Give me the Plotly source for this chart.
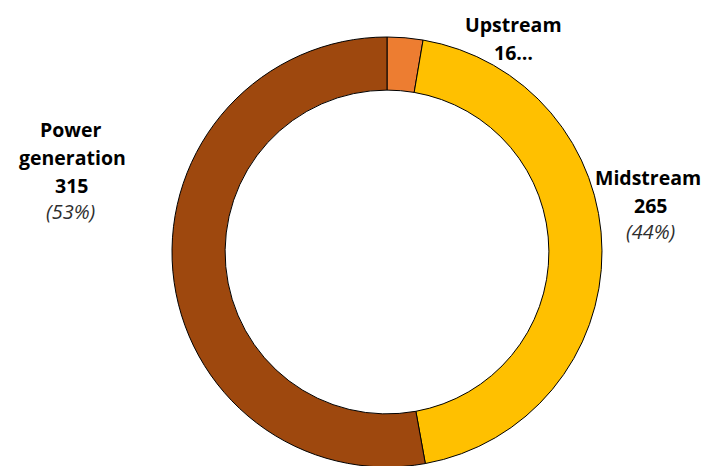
import plotly.graph_objects as go

categories = ["Upstream", "Midstream", "Power generation"]
values = [16, 265, 315]
colors = ["#ED7D31", "#FFC000", "#9E480E"]

W, H = 709, 466
OFF = 8  # page body margin offset
total = sum(values)
pcts = [round(v / total * 100) for v in values]

cx, cy, R = 387 - OFF, 252 - OFF, 215

fig = go.Figure(go.Pie(
    labels=categories,
    values=values,
    sort=False,
    direction="clockwise",
    rotation=0,
    hole=0.753,
    marker=dict(colors=colors, line=dict(color="#000000", width=1)),
    textinfo="none",
    hoverinfo="label+value+percent",
    showlegend=False,
    domain=dict(x=[(cx - R) / W, (cx + R) / W],
                y=[(H - cy - R) / H, (H - cy + R) / H]),
))

FONT = "Open Sans"

def add_line(text, xc, yc, bold=True, italic=False, color="#000000", size=19.5):
    t = text
    if bold:
        t = "<b>" + t + "</b>"
    if italic:
        t = "<i>" + t + "</i>"
    fig.add_annotation(
        x=(xc - OFF) / W, y=1 - (yc - OFF) / H, xref="paper", yref="paper",
        text=t, showarrow=False, xanchor="center", yanchor="middle",
        font=dict(family=FONT, size=size, color=color),
    )

# Upstream (value truncated in the original)
add_line(categories[0], 513, 25)
add_line(str(values[0])[:2] + "…", 513, 52)

# Midstream
add_line(categories[1], 648, 177)
add_line(str(values[1]), 650, 205)
add_line("(" + str(pcts[1]) + "%)", 650, 232, bold=False, italic=True, color="#2e2e2e", size=20)

# Power generation
pg = categories[2].split(" ")
add_line(pg[0], 71, 129)
add_line(pg[1], 72, 157)
add_line(str(values[2]), 71, 185)
add_line("(" + str(pcts[2]) + "%)", 70, 212, bold=False, italic=True, color="#2e2e2e", size=20)

fig.update_layout(
    width=W, height=H,
    margin=dict(l=0, r=0, t=0, b=0),
    paper_bgcolor="#FFFFFF",
    plot_bgcolor="#FFFFFF",
)

fig.write_html("out.html")
